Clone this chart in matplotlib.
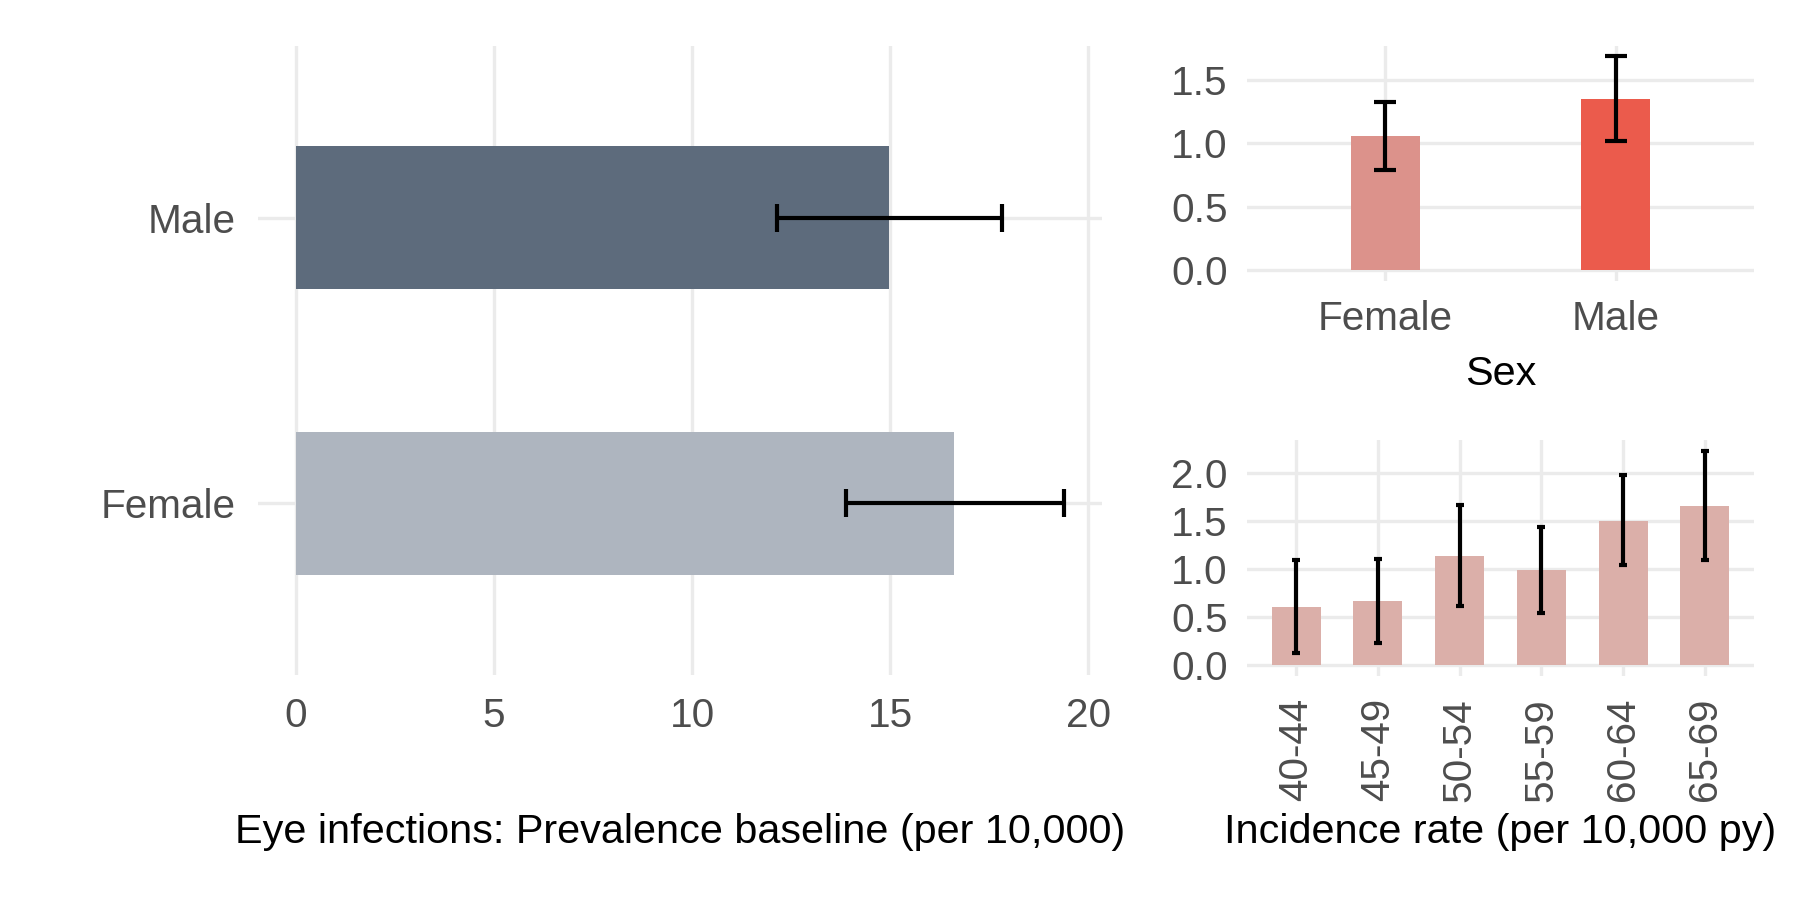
import matplotlib
matplotlib.use("Agg")
import matplotlib.pyplot as plt
import numpy as np

plt.rcParams['font.family'] = ['Liberation Sans', 'DejaVu Sans']

# ---- data ----
sex_labels = ["Female", "Male"]
prev_values = [16.62, 14.98]
prev_lower = [13.88, 12.14]
prev_upper = [19.38, 17.83]
prev_colors = ["#AEB5BF", "#5D6B7C"]

inc_sex_values = [1.056, 1.348]
inc_sex_lower = [0.789, 1.019]
inc_sex_upper = [1.324, 1.683]
inc_sex_colors = ["#DC928B", "#EB5B4C"]

age_groups = ["40-44", "45-49", "50-54", "55-59", "60-64", "65-69"]
inc_age_values = [0.599, 0.667, 1.138, 0.986, 1.498, 1.657]
inc_age_lower = [0.121, 0.231, 0.609, 0.543, 1.035, 1.090]
inc_age_upper = [1.090, 1.103, 1.668, 1.432, 1.972, 2.228]
age_color = "#DBAFA9"

prev_ticks = [0, 5, 10, 15, 20]
sex_inc_ticks = [0.0, 0.5, 1.0, 1.5]
age_inc_ticks = [0.0, 0.5, 1.0, 1.5, 2.0]

GRID = "#EBEBEB"
TICKC = "#4D4D4D"
FS = 14.6
TFS = 14.9
ELW = 1.5

W, H = 1800, 900
fig = plt.figure(figsize=(9, 4.5), dpi=200)


def px_axes(x0, y0, x1, y1):
    return fig.add_axes([x0 / W, 1 - y1 / H, (x1 - x0) / W, (y1 - y0) / H])


def style(ax):
    for s in ax.spines.values():
        s.set_visible(False)
    ax.set_axisbelow(True)
    ax.grid(True, color=GRID, linewidth=1.2)
    ax.tick_params(length=0, colors=TICKC, labelsize=FS)


def cont_lim(lo_vals, hi_vals):
    lo = min(0, min(lo_vals))
    hi = max(hi_vals)
    pad = 0.05 * (hi - lo)
    return lo - pad, hi + pad


# ---- left panel: prevalence (horizontal bars) ----
ax1 = px_axes(257.6, 46, 1102, 675)
style(ax1)
ypos = np.arange(len(sex_labels))
prev_err = [np.array(prev_values) - np.array(prev_lower),
            np.array(prev_upper) - np.array(prev_values)]
ax1.barh(ypos, prev_values, height=0.5, color=prev_colors)
ax1.errorbar(prev_values, ypos, xerr=prev_err, fmt="none", ecolor="black",
             elinewidth=ELW, capsize=5.2, capthick=ELW)
ax1.set_yticks(ypos)
ax1.set_yticklabels(sex_labels)
ax1.set_ylim(-0.6, len(sex_labels) - 0.4)
ax1.set_xticks(prev_ticks)
ax1.set_xlim(*cont_lim([0], prev_upper))
ax1.tick_params(axis="y", pad=8)
ax1.tick_params(axis="x", pad=8)
ax1.set_xlabel("Eye infections: Prevalence baseline (per 10,000)", fontsize=TFS,
               color="black", labelpad=28)

# ---- top right: incidence by sex ----
ax2 = px_axes(1247, 45.7, 1754, 280.7)
style(ax2)
xpos = np.arange(len(sex_labels))
sex_err = [np.array(inc_sex_values) - np.array(inc_sex_lower),
           np.array(inc_sex_upper) - np.array(inc_sex_values)]
ax2.bar(xpos, inc_sex_values, width=0.3, color=inc_sex_colors)
ax2.errorbar(xpos, inc_sex_values, yerr=sex_err, fmt="none", ecolor="black",
             elinewidth=ELW, capsize=4.1, capthick=ELW)
ax2.set_xticks(xpos)
ax2.set_xticklabels(sex_labels)
ax2.set_xlim(-0.6, len(sex_labels) - 0.4)
ax2.set_yticks(sex_inc_ticks)
ax2.set_yticklabels([f"{t:.1f}" for t in sex_inc_ticks])
ax2.set_ylim(*cont_lim([0], inc_sex_upper))
ax2.tick_params(axis="x", pad=7)
ax2.tick_params(axis="y", pad=7)
ax2.set_xlabel("Sex", fontsize=TFS, color="black", labelpad=6)

# ---- bottom right: incidence by age ----
ax3 = px_axes(1247, 440, 1754, 675.7)
style(ax3)
apos = np.arange(len(age_groups))
age_err = [np.array(inc_age_values) - np.array(inc_age_lower),
           np.array(inc_age_upper) - np.array(inc_age_values)]
ax3.bar(apos, inc_age_values, width=0.6, color=age_color)
ax3.errorbar(apos, inc_age_values, yerr=age_err, fmt="none", ecolor="black",
             elinewidth=ELW, capsize=1.5, capthick=ELW)
ax3.set_xticks(apos)
ax3.set_xticklabels(age_groups, rotation=90)
ax3.set_xlim(-0.6, len(age_groups) - 0.4)
ax3.set_yticks(age_inc_ticks)
ax3.set_yticklabels([f"{t:.1f}" for t in age_inc_ticks])
ax3.set_ylim(*cont_lim([0], inc_age_upper))
ax3.tick_params(axis="x", pad=8)
ax3.tick_params(axis="y", pad=7)
ax3.set_xlabel("Incidence rate (per 10,000 py)", fontsize=TFS, color="black",
               labelpad=4)

fig.savefig("out.png", dpi=200, facecolor="white")
